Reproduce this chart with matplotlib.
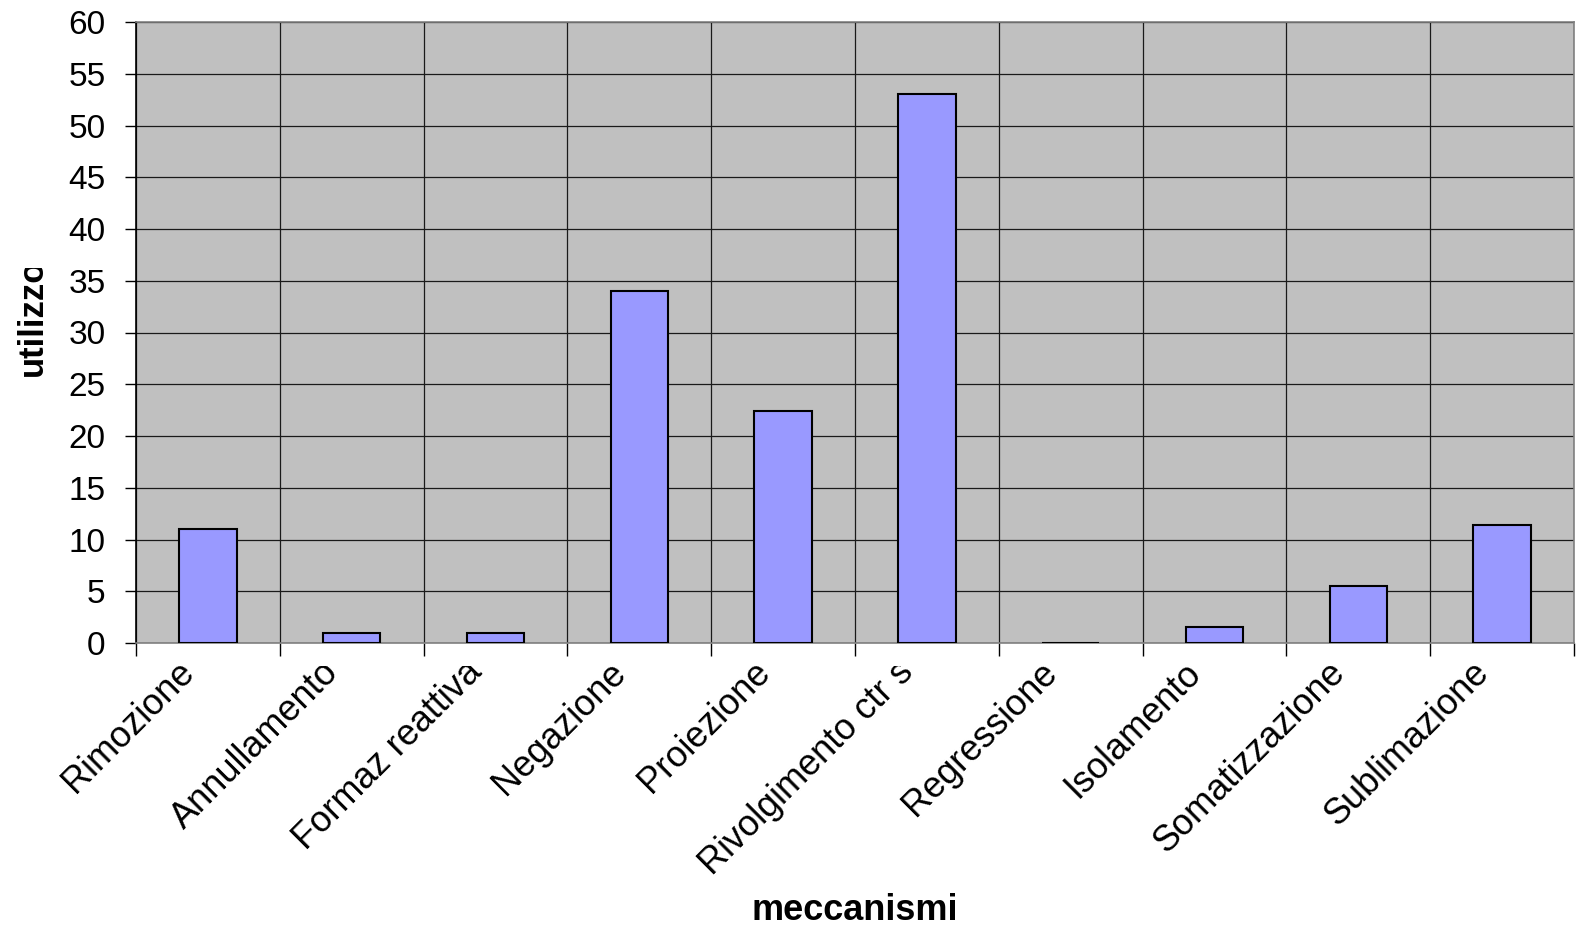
import numpy as np
import matplotlib
matplotlib.use('Agg')
import matplotlib.pyplot as plt
import matplotlib.transforms as mtransforms
from matplotlib.transforms import Bbox

# meccanismi di difesa e relativo utilizzo
meccanismi = ['Rimozione', 'Annullamento', 'Formaz reattiva', 'Negazione', 'Proiezione',
              'Rivolgimento ctr s', 'Regressione', 'Isolamento', 'Somatizzazione', 'Sublimazione']
utilizzo = [11, 1, 1, 34, 22.4, 53, 0, 1.5, 5.5, 11.4]
y_ticks = list(range(0, 61, 5))

W, H = 1580, 926
plt.rcParams['font.family'] = ['Liberation Sans', 'DejaVu Sans']

fig = plt.figure(figsize=(W / 100, H / 100), dpi=100)
ax = fig.add_axes([136 / W, 1 - 643 / H, (1574 - 136) / W, (643 - 22) / H])
ax.set_facecolor('#C0C0C0')

x = np.arange(len(meccanismi))
ax.bar(x, utilizzo, width=0.4, color='#9999FF', edgecolor='black', linewidth=1.5, zorder=3)

ax.set_xlim(-0.5, len(meccanismi) - 0.5)
ax.set_ylim(0, 60)
ax.set_yticks(y_ticks)
ax.set_yticklabels([str(v) for v in y_ticks])
ax.set_xticks(np.arange(-0.5, len(meccanismi), 1))
ax.set_xticklabels([])
ax.tick_params(axis='y', length=8, width=1, pad=14, labelsize=24, direction='out')
ax.tick_params(axis='x', length=9, width=1, direction='out')
ax.grid(True, color='#1a1a1a', linewidth=0.9)
ax.set_axisbelow(True)

for side in ['top', 'right', 'bottom']:
    ax.spines[side].set_color('#808080')
    ax.spines[side].set_linewidth(1.2)
ax.spines['left'].set_color('black')
ax.spines['left'].set_linewidth(1.2)

# etichette delle categorie, tagliate in alto come nel foglio di calcolo
lab_trans = mtransforms.offset_copy(ax.transData, fig=fig, x=-12, y=-31, units='dots')
for i, name in enumerate(meccanismi):
    t = ax.text(i, 0, name, rotation=45, rotation_mode='anchor', ha='right', va='baseline',
                fontsize=26, transform=lab_trans, clip_on=True)
    t.set_clip_box(Bbox.from_extents(0, 0, W, H - 666))

yl = fig.text(32 / W, 1 - 376 / H, 'utilizzo', rotation=90, ha='center', va='bottom',
              fontsize=25, fontweight='bold')
yl.set_clip_on(True)
yl.set_clip_box(Bbox.from_extents(0, 0, W, H - 268))

fig.text(855 / W, 1 - 911 / H, 'meccanismi', ha='center', va='center',
         fontsize=26, fontweight='bold')

fig.savefig('out.png', dpi=100)
